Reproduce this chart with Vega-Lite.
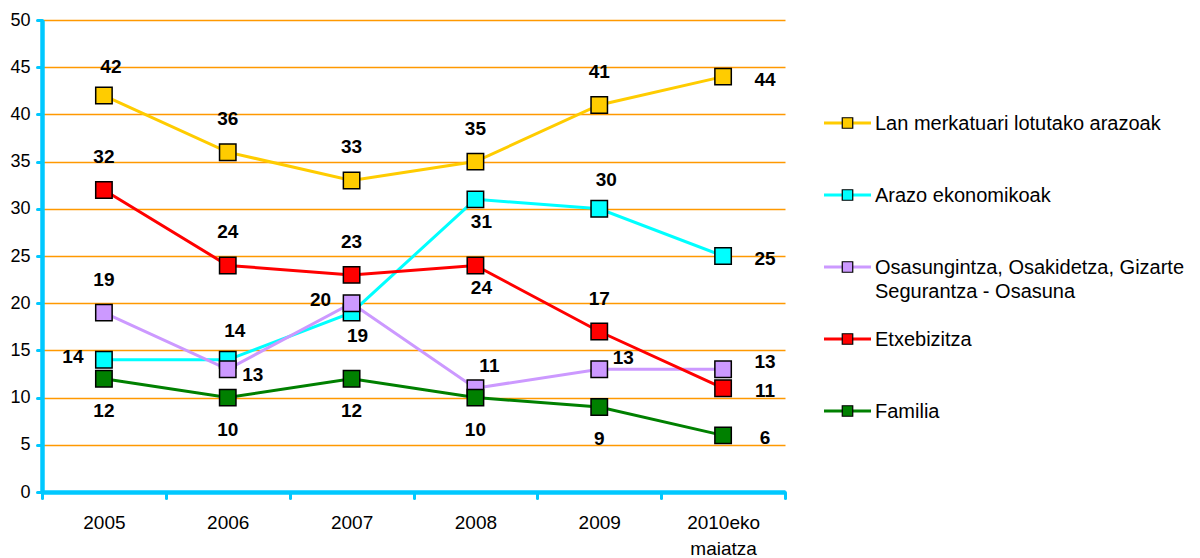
{
  "$schema": "https://vega.github.io/schema/vega-lite/v6.json",
  "width": 743,
  "height": 472,
  "autosize": {"type": "none"},
  "padding": {"left": 42, "top": 20, "right": 415, "bottom": 66},
  "background": "white",
  "config": {
    "view": {"stroke": null},
    "font": "Liberation Sans",
    "text": {"font": "Liberation Sans", "fontSize": 19, "fontWeight": "bold", "color": "black", "baseline": "middle", "align": "center"}
  },
  "datasets": {
    "main": [
      {"year": "2005", "series": "Lan merkatuari lotutako arazoak", "value": 42, "pos": "an"},
      {"year": "2006", "series": "Lan merkatuari lotutako arazoak", "value": 36, "pos": "a"},
      {"year": "2007", "series": "Lan merkatuari lotutako arazoak", "value": 33, "pos": "a"},
      {"year": "2008", "series": "Lan merkatuari lotutako arazoak", "value": 35, "pos": "a"},
      {"year": "2009", "series": "Lan merkatuari lotutako arazoak", "value": 41, "pos": "a"},
      {"year": "2010eko maiatza", "series": "Lan merkatuari lotutako arazoak", "value": 44, "pos": "r"},
      {"year": "2005", "series": "Arazo ekonomikoak", "value": 14, "pos": "l"},
      {"year": "2006", "series": "Arazo ekonomikoak", "value": 14, "pos": "an"},
      {"year": "2007", "series": "Arazo ekonomikoak", "value": 19, "pos": "bn"},
      {"year": "2008", "series": "Arazo ekonomikoak", "value": 31, "pos": "bn"},
      {"year": "2009", "series": "Arazo ekonomikoak", "value": 30, "pos": "an"},
      {"year": "2010eko maiatza", "series": "Arazo ekonomikoak", "value": 25, "pos": "r"},
      {"year": "2005", "series": "Osasungintza, Osakidetza, Gizarte Segurantza - Osasuna", "value": 19, "pos": "a"},
      {"year": "2006", "series": "Osasungintza, Osakidetza, Gizarte Segurantza - Osasuna", "value": 13, "pos": "rn"},
      {"year": "2007", "series": "Osasungintza, Osakidetza, Gizarte Segurantza - Osasuna", "value": 20, "pos": "l"},
      {"year": "2008", "series": "Osasungintza, Osakidetza, Gizarte Segurantza - Osasuna", "value": 11, "pos": "ar"},
      {"year": "2009", "series": "Osasungintza, Osakidetza, Gizarte Segurantza - Osasuna", "value": 13, "pos": "ur"},
      {"year": "2010eko maiatza", "series": "Osasungintza, Osakidetza, Gizarte Segurantza - Osasuna", "value": 13, "pos": "ru"},
      {"year": "2005", "series": "Etxebizitza", "value": 32, "pos": "a"},
      {"year": "2006", "series": "Etxebizitza", "value": 24, "pos": "a"},
      {"year": "2007", "series": "Etxebizitza", "value": 23, "pos": "a"},
      {"year": "2008", "series": "Etxebizitza", "value": 24, "pos": "bn"},
      {"year": "2009", "series": "Etxebizitza", "value": 17, "pos": "a"},
      {"year": "2010eko maiatza", "series": "Etxebizitza", "value": 11, "pos": "r"},
      {"year": "2005", "series": "Familia", "value": 12, "pos": "b"},
      {"year": "2006", "series": "Familia", "value": 10, "pos": "b"},
      {"year": "2007", "series": "Familia", "value": 12, "pos": "b"},
      {"year": "2008", "series": "Familia", "value": 10, "pos": "b"},
      {"year": "2009", "series": "Familia", "value": 9, "pos": "b"},
      {"year": "2010eko maiatza", "series": "Familia", "value": 6, "pos": "r"}
    ],
    "legend": [
      {"series": "Lan merkatuari lotutako arazoak", "label": "Lan merkatuari lotutako arazoak"},
      {"series": "Arazo ekonomikoak", "label": "Arazo ekonomikoak"},
      {"series": "Osasungintza, Osakidetza, Gizarte Segurantza - Osasuna", "label": "Osasungintza, Osakidetza, Gizarte\nSegurantza - Osasuna"},
      {"series": "Etxebizitza", "label": "Etxebizitza"},
      {"series": "Familia", "label": "Familia"}
    ]
  },
  "layer": [
    {
      "data": {"name": "main"},
      "encoding": {
        "x": {
          "field": "year", "type": "nominal", "sort": null,
          "scale": {"paddingInner": 0, "paddingOuter": 0},
          "axis": {
            "title": null, "labelAngle": 0, "labelFontSize": 19, "labelColor": "black", "labelFont": "Liberation Sans",
            "domainColor": "#00C8FF", "domainWidth": 4.5, "tickColor": "#00C8FF", "tickWidth": 3, "tickSize": 6,
            "tickBand": "extent", "tickCap": "round", "labelPadding": 15, "labelLineHeight": 26, "grid": false,
            "labelExpr": "datum.value == '2010eko maiatza' ? ['2010eko', 'maiatza'] : datum.label"
          }
        },
        "y": {
          "field": "value", "type": "quantitative",
          "scale": {"domain": [0, 50], "nice": false, "zero": true},
          "axis": {
            "title": null, "values": [0, 5, 10, 15, 20, 25, 30, 35, 40, 45, 50],
            "labelFontSize": 18, "labelColor": "black", "labelFont": "Liberation Sans",
            "domainColor": "#00C8FF", "domainWidth": 4.5, "tickColor": "#00C8FF", "tickWidth": 3, "tickSize": 5, "tickCap": "round",
            "labelPadding": 7, "grid": true, "gridColor": "#FF9900", "gridWidth": 1.5
          }
        }
      },
      "layer": [
        {
          "mark": {"type": "line", "strokeWidth": 3},
          "encoding": {
            "stroke": {
              "field": "series", "type": "nominal", "legend": null,
              "scale": {
                "domain": ["Lan merkatuari lotutako arazoak", "Arazo ekonomikoak", "Osasungintza, Osakidetza, Gizarte Segurantza - Osasuna", "Etxebizitza", "Familia"],
                "range": ["#FFCC00", "#00FFFF", "#CC99FF", "#FF0000", "#008000"]
              }
            }
          }
        },
        {
          "mark": {"type": "point", "shape": "square", "filled": true, "size": 270, "stroke": "black", "strokeWidth": 1.5, "opacity": 1},
          "encoding": {
            "fill": {
              "field": "series", "type": "nominal", "legend": null,
              "scale": {
                "domain": ["Lan merkatuari lotutako arazoak", "Arazo ekonomikoak", "Osasungintza, Osakidetza, Gizarte Segurantza - Osasuna", "Etxebizitza", "Familia"],
                "range": ["#FFCC00", "#00FFFF", "#CC99FF", "#FF0000", "#008000"]
              }
            }
          }
        },
        {"transform": [{"filter": "datum.pos == 'a'"}], "mark": {"type": "text", "dx": 0, "dy": -33}, "encoding": {"text": {"field": "value"}}},
        {"transform": [{"filter": "datum.pos == 'an'"}], "mark": {"type": "text", "dx": 7, "dy": -29}, "encoding": {"text": {"field": "value"}}},
        {"transform": [{"filter": "datum.pos == 'b'"}], "mark": {"type": "text", "dx": 0, "dy": 32}, "encoding": {"text": {"field": "value"}}},
        {"transform": [{"filter": "datum.pos == 'bn'"}], "mark": {"type": "text", "dx": 6, "dy": 23}, "encoding": {"text": {"field": "value"}}},
        {"transform": [{"filter": "datum.pos == 'l'"}], "mark": {"type": "text", "dx": -31, "dy": -3}, "encoding": {"text": {"field": "value"}}},
        {"transform": [{"filter": "datum.pos == 'r'"}], "mark": {"type": "text", "dx": 42, "dy": 3}, "encoding": {"text": {"field": "value"}}},
        {"transform": [{"filter": "datum.pos == 'ru'"}], "mark": {"type": "text", "dx": 42, "dy": -7}, "encoding": {"text": {"field": "value"}}},
        {"transform": [{"filter": "datum.pos == 'rn'"}], "mark": {"type": "text", "dx": 25, "dy": 6}, "encoding": {"text": {"field": "value"}}},
        {"transform": [{"filter": "datum.pos == 'ur'"}], "mark": {"type": "text", "dx": 24, "dy": -11}, "encoding": {"text": {"field": "value"}}},
        {"transform": [{"filter": "datum.pos == 'ar'"}], "mark": {"type": "text", "dx": 14, "dy": -22}, "encoding": {"text": {"field": "value"}}}
      ]
    },
    {
      "data": {"name": "legend"},
      "encoding": {
        "y": {
          "field": "series", "type": "nominal", "sort": null, "axis": null,
          "scale": {"type": "point", "range": [103, 391], "padding": 0}
        }
      },
      "layer": [
        {
          "mark": {"type": "rule", "strokeWidth": 3},
          "encoding": {
            "x": {"datum": 0, "type": "quantitative", "axis": null, "scale": {"domain": [0, 1], "range": [782, 829], "zero": false, "nice": false}},
            "x2": {"datum": 1},
            "stroke": {"field": "series", "type": "nominal", "legend": null}
          }
        },
        {
          "mark": {"type": "point", "shape": "square", "filled": true, "size": 110, "stroke": "black", "strokeWidth": 1.2, "opacity": 1},
          "encoding": {
            "x": {"datum": 0.5, "type": "quantitative", "axis": null},
            "fill": {"field": "series", "type": "nominal", "legend": null}
          }
        },
        {
          "mark": {"type": "text", "align": "left", "baseline": "top", "dx": 4, "dy": -9, "fontSize": 20, "fontWeight": "normal", "lineBreak": "\n", "lineHeight": 24},
          "encoding": {
            "x": {"datum": 1, "type": "quantitative", "axis": null},
            "text": {"field": "label"}
          }
        }
      ]
    }
  ],
  "resolve": {"scale": {"x": "independent", "y": "independent"}}
}
